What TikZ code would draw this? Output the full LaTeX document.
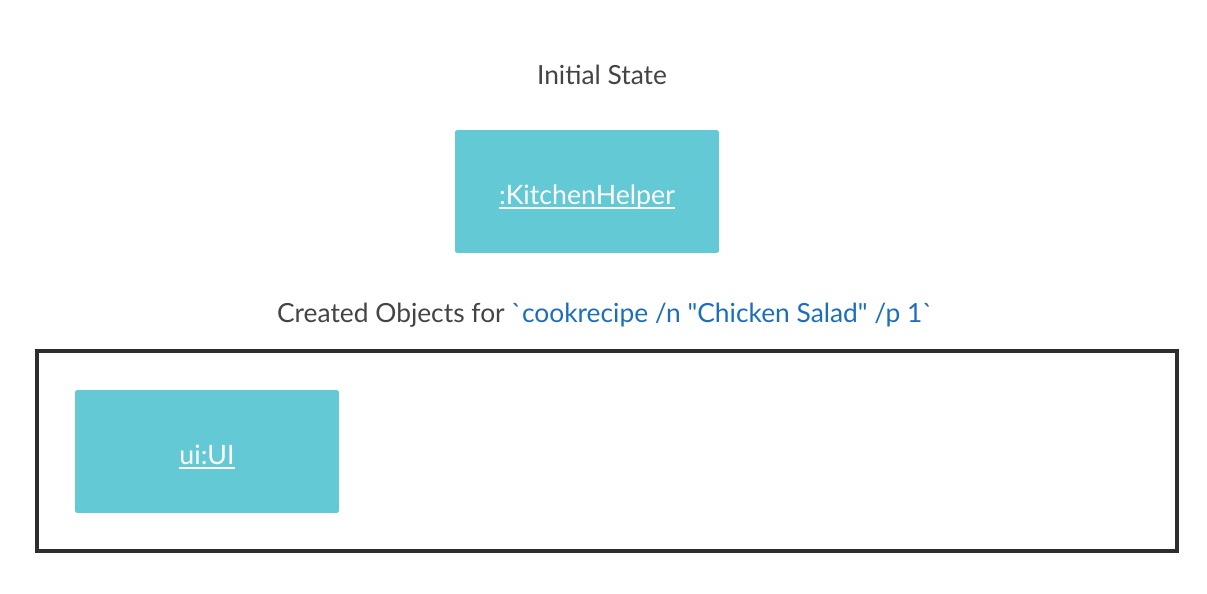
\documentclass[tikz,border=0pt]{standalone}
\usepackage{fontspec}
\setmainfont{Lato}[Ligatures=TeXOff]
\usepackage{tikz}
\usetikzlibrary{positioning}
\definecolor{obj}{HTML}{63C9D5}
\definecolor{txt}{HTML}{444444}
\definecolor{cmd}{HTML}{1C6EBD}
\definecolor{frm}{HTML}{2D2D2D}
\newcommand\objname[1]{\setbox0\hbox{#1}\rlap{\rule[-2.4pt]{\wd0}{1.1pt}}\box0}

\begin{document}
\begin{tikzpicture}[x=0.02cm,y=-0.02cm,
    objbox/.style={fill=obj,rounded corners=1pt,minimum width=5.28cm,minimum height=2.46cm,
      font=\fontsize{15.2}{17}\selectfont,text=white,inner sep=0pt,text depth=0pt},
    caption/.style={font=\fontsize{15}{17}\selectfont,text=txt}]
        \useasboundingbox (0,0) rectangle (1207,594);

        \path
        (602,75) node[caption](title) {Initial State}
        (587,191.5) node[objbox](kh) {\raisebox{-4pt}{\objname{:KitchenHelper}}}
        (605,315) node[caption](created) {Created Objects for \textcolor{cmd}{`cookrecipe /n "Chicken Salad" /p 1`}}
        ;

        \node[draw=frm,line width=2pt,minimum width=22.8cm,minimum height=4cm,inner sep=0pt]
          (frame) at (607,451) {};

        \node[objbox] (ui) at (207,451.5) {\raisebox{-4pt}{\objname{ui:UI}}};
      \end{tikzpicture}
\end{document}
